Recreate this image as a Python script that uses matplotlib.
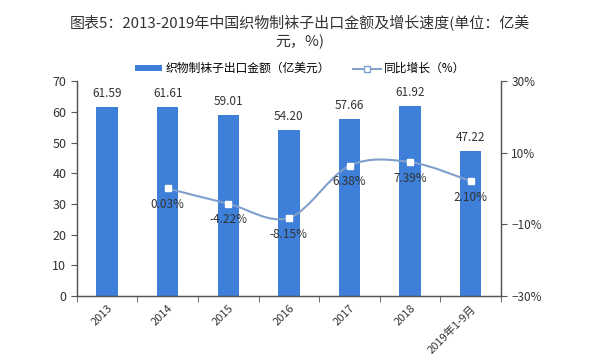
import matplotlib
matplotlib.use("Agg")
import matplotlib.pyplot as plt
from matplotlib.path import Path
from matplotlib.patches import PathPatch
from matplotlib.lines import Line2D
from matplotlib.patches import Patch
import numpy as np

plt.rcParams['font.family'] = ['Noto Sans CJK SC', 'DejaVu Sans']
plt.rcParams['axes.unicode_minus'] = False

categories = ['2013', '2014', '2015', '2016', '2017', '2018', '2019年1-9月']
export_values = [61.59, 61.61, 59.01, 54.20, 57.66, 61.92, 47.22]
growth_cats = ['2014', '2015', '2016', '2017', '2018', '2019年1-9月']
growth_values = [0.03, -4.22, -8.15, 6.38, 7.39, 2.10]

bar_color = '#3d7fd9'
line_color = '#7f9fcc'
text_color = '#333333'

fig = plt.figure(figsize=(6.0, 3.62), dpi=100)
ax = fig.add_axes([0.128, 0.182, 0.707, 0.594])
ax2 = ax.twinx()

x = np.arange(len(categories))
ax.bar(x, export_values, width=0.35, color=bar_color, zorder=2)
for xi, v in zip(x, export_values):
    ax.annotate(f'{v:.2f}', (xi, v), xytext=(0, 5), textcoords='offset points',
                ha='center', va='bottom', fontsize=8.5, color=text_color)

ax.set_xlim(-0.5, len(categories) - 0.5)
ax.set_ylim(0, 70)
ax.set_yticks(range(0, 71, 10))
ax.set_xticks(x)
ax.set_xticklabels(categories, rotation=45, ha='right', rotation_mode='anchor', fontsize=8, color=text_color)
ax.tick_params(axis='x', length=0, pad=5)
ax.set_xticks(np.arange(-0.5, len(categories), 1), minor=True)
ax.tick_params(axis='x', which='minor', length=4, color='#555555')
ax.tick_params(axis='y', labelsize=9, colors=text_color, length=4)
ax.tick_params(axis='y', color='#555555')

ax2.set_ylim(-30, 30)
ax2.set_yticks([-30, -10, 10, 30])
ax2.set_yticklabels(['−30%', '−10%', '10%', '30%'])
ax2.tick_params(axis='y', labelsize=8.5, colors=text_color, length=4)
ax2.tick_params(axis='y', color='#555555')

for a in (ax, ax2):
    a.spines['top'].set_visible(False)
    for s in ('left', 'right', 'bottom'):
        a.spines[s].set_color('#555555')
        a.spines[s].set_linewidth(0.9)

# smooth curve (Catmull-Rom -> Bezier) through the growth points
gx = np.array([categories.index(c) for c in growth_cats], dtype=float)
gy = np.array(growth_values, dtype=float)
pts = np.column_stack([gx, gy])
verts = [pts[0]]
codes = [Path.MOVETO]
t = 1 / 6
for i in range(len(pts) - 1):
    p0 = pts[i - 1] if i > 0 else pts[i]
    p1 = pts[i]
    p2 = pts[i + 1]
    p3 = pts[i + 2] if i + 2 < len(pts) else pts[i + 1]
    c1 = p1 + (p2 - p0) * t
    c2 = p2 - (p3 - p1) * t
    verts += [c1, c2, p2]
    codes += [Path.CURVE4] * 3
ax2.add_patch(PathPatch(Path(verts, codes), facecolor='none', edgecolor=line_color, lw=1.5, zorder=3))
ax2.plot(gx, gy, linestyle='none', marker='s', markersize=4.5, markerfacecolor='white',
         markeredgecolor='white', zorder=4)
for xi, v in zip(gx, gy):
    ax2.annotate(f'{v:.2f}%', (xi, v), xytext=(0, -7), textcoords='offset points',
                 ha='center', va='top', fontsize=8.5, color=text_color, zorder=5)

fig.text(0.5, 0.937, '图表5：2013-2019年中国织物制袜子出口金额及增长速度(单位：亿美',
         ha='center', va='center', fontsize=10.8, color='#333333')
fig.text(0.5, 0.885, '元，%)', ha='center', va='center', fontsize=10.8, color='#333333')

handles = [Patch(facecolor=bar_color, edgecolor='none'),
           Line2D([], [], color=line_color, lw=1.4, marker='s', markersize=5,
                  markerfacecolor='white', markeredgecolor=line_color)]
fig.legend(handles, ['织物制袜子出口金额（亿美元）', '同比增长（%）'], loc='center',
           bbox_to_anchor=(0.5, 0.81), ncol=2, frameon=False, fontsize=8.5,
           handlelength=2.3, handleheight=0.5, columnspacing=2.0, handletextpad=0.3)

fig.savefig('out.png', dpi=100)
